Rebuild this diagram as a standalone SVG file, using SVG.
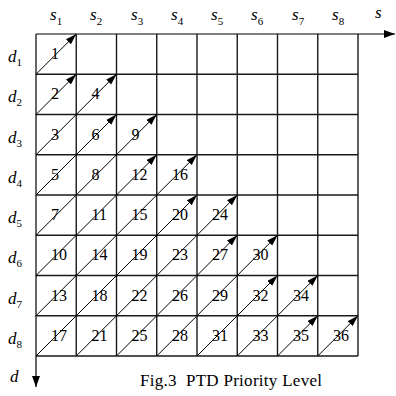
<svg xmlns="http://www.w3.org/2000/svg" width="396" height="396" viewBox="0 0 396 396">
<style>
.grid{stroke:#1a1a1a;stroke-width:1.4;fill:none}
.ax{stroke:#000;stroke-width:1.2;fill:none}
.dg{stroke:#000;stroke-width:1;fill:none}
.n{font-family:"Liberation Serif",serif;font-size:16px;fill:#000}
.lb{font-family:"Liberation Serif",serif;font-size:17px;font-style:italic;fill:#000}
.sb{font-family:"Liberation Serif",serif;font-size:11px;font-style:normal}
.cap{font-family:"Liberation Serif",serif;font-size:17px;fill:#000}
</style>
<defs>
<marker id="ah" markerUnits="userSpaceOnUse" markerWidth="12" markerHeight="8" refX="11" refY="3.5" orient="auto"><path d="M0,0 L11,3.5 L0,7 z" fill="#000"/></marker>
<marker id="axh" markerUnits="userSpaceOnUse" markerWidth="12" markerHeight="8" refX="11" refY="4" orient="auto"><path d="M0,0 L11,4 L0,8 z" fill="#000"/></marker>
</defs>
<rect width="396" height="396" fill="#fff"/>
<g id="grid" class="grid">
<path d="M76.25,34V356M116.5,34V356M156.75,34V356M197,34V356M237.25,34V356M277.5,34V356M317.75,34V356M358,34V356"/>
<path d="M36,74.25H358M36,114.5H358M36,154.75H358M36,195H358M36,235.25H358M36,275.5H358M36,315.75H358M36,356H358"/>
</g>
<g id="axes" class="ax">
<line x1="36" y1="34" x2="395" y2="34" marker-end="url(#axh)"/>
<line x1="36" y1="34" x2="36" y2="387" marker-end="url(#axh)"/>
</g>
<g id="axis-labels" class="lb">
<text x="50" y="20">s<tspan class="sb" dy="5">1</tspan></text>
<text x="90" y="20">s<tspan class="sb" dy="5">2</tspan></text>
<text x="131" y="20">s<tspan class="sb" dy="5">3</tspan></text>
<text x="171" y="20">s<tspan class="sb" dy="5">4</tspan></text>
<text x="211" y="20">s<tspan class="sb" dy="5">5</tspan></text>
<text x="251" y="20">s<tspan class="sb" dy="5">6</tspan></text>
<text x="292" y="20">s<tspan class="sb" dy="5">7</tspan></text>
<text x="332" y="20">s<tspan class="sb" dy="5">8</tspan></text>
<text x="375" y="18">s</text>
<text x="8" y="62">d<tspan class="sb" dy="4">1</tspan></text>
<text x="8" y="102">d<tspan class="sb" dy="4">2</tspan></text>
<text x="8" y="143">d<tspan class="sb" dy="4">3</tspan></text>
<text x="8" y="183">d<tspan class="sb" dy="4">4</tspan></text>
<text x="8" y="223">d<tspan class="sb" dy="4">5</tspan></text>
<text x="8" y="263">d<tspan class="sb" dy="4">6</tspan></text>
<text x="8" y="304">d<tspan class="sb" dy="4">7</tspan></text>
<text x="8" y="344">d<tspan class="sb" dy="4">8</tspan></text>
<text x="10" y="382">d</text>
</g>
<g id="connectors" class="dg">
<line x1="36" y1="74.25" x2="76.25" y2="34" marker-end="url(#ah)"/>
<line x1="36" y1="114.5" x2="76.25" y2="74.25" marker-end="url(#ah)"/>
<line x1="36" y1="154.75" x2="116.5" y2="74.25" marker-end="url(#ah)"/>
<line x1="36" y1="195" x2="116.5" y2="114.5" marker-end="url(#ah)"/>
<line x1="36" y1="235.25" x2="156.75" y2="114.5" marker-end="url(#ah)"/>
<line x1="36" y1="275.5" x2="156.75" y2="154.75" marker-end="url(#ah)"/>
<line x1="36" y1="315.75" x2="197" y2="154.75" marker-end="url(#ah)"/>
<line x1="36" y1="356" x2="197" y2="195" marker-end="url(#ah)"/>
<line x1="76.25" y1="356" x2="237.25" y2="195" marker-end="url(#ah)"/>
<line x1="116.5" y1="356" x2="237.25" y2="235.25" marker-end="url(#ah)"/>
<line x1="156.75" y1="356" x2="277.5" y2="235.25" marker-end="url(#ah)"/>
<line x1="197" y1="356" x2="277.5" y2="275.5" marker-end="url(#ah)"/>
<line x1="237.25" y1="356" x2="317.75" y2="275.5" marker-end="url(#ah)"/>
<line x1="277.5" y1="356" x2="317.75" y2="315.75" marker-end="url(#ah)"/>
<line x1="317.75" y1="356" x2="358" y2="315.75" marker-end="url(#ah)"/>
</g>
<g id="cells" class="n">
<g id="r1"><text x="51" y="59">1</text></g>
<g id="r2"><text x="51" y="99">2</text><text x="91.5" y="99">4</text></g>
<g id="r3"><text x="51" y="140">3</text><text x="91.5" y="140">6</text><text x="131.5" y="140">9</text></g>
<g id="r4"><text x="51" y="180">5</text><text x="91.5" y="180">8</text><text x="131.5" y="180">12</text><text x="172" y="180">16</text></g>
<g id="r5"><text x="51" y="220">7</text><text x="91.5" y="220">11</text><text x="131.5" y="220">15</text><text x="172" y="220">20</text><text x="212" y="220">24</text></g>
<g id="r6"><text x="51" y="260">10</text><text x="91.5" y="260">14</text><text x="131.5" y="260">19</text><text x="172" y="260">23</text><text x="212" y="260">27</text><text x="252.5" y="260">30</text></g>
<g id="r7"><text x="51" y="301">13</text><text x="91.5" y="301">18</text><text x="131.5" y="301">22</text><text x="172" y="301">26</text><text x="212" y="301">29</text><text x="252.5" y="301">32</text><text x="293" y="301">34</text></g>
<g id="r8"><text x="51" y="341">17</text><text x="91.5" y="341">21</text><text x="131.5" y="341">25</text><text x="172" y="341">28</text><text x="212" y="341">31</text><text x="252.5" y="341">33</text><text x="293" y="341">35</text><text x="333" y="341">36</text></g>
</g>
<text class="cap" x="140" y="386" xml:space="preserve" textLength="182" lengthAdjust="spacing">Fig.3  PTD Priority Level</text>
</svg>
